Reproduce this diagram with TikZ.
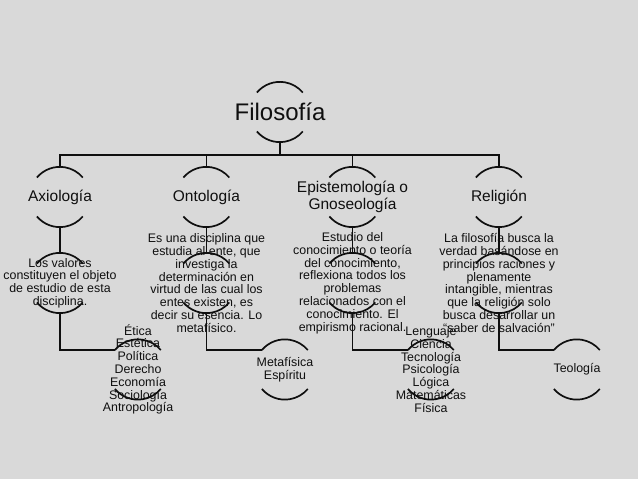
\documentclass[tikz,border=0pt]{standalone}
\usepackage{fontspec}
\setmainfont{Liberation Sans}
\definecolor{bg}{RGB}{217,217,217}
\definecolor{ink}{RGB}{15,15,15}
\tikzset{
  ring/.style={circle, minimum size=60pt, inner sep=0pt, draw=none},
  arcline/.style={draw=ink, line width=1.7pt},
  link/.style={draw=ink, line width=1.6pt},
  top/.style={text=ink, inner sep=0pt, font=\fontsize{24}{26}\selectfont},
  lvl/.style={text=ink, inner sep=0pt, align=center, font=\fontsize{15.5}{17}\selectfont},
  desc/.style={text=ink, inner sep=0pt, align=center, font=\fontsize{12.4}{12.8}\selectfont},
}
\newcommand\ringcaps[1]{%
  \draw[arcline] (#1.140) arc[start angle=140, end angle=40, radius=30pt];
  \draw[arcline] (#1.220) arc[start angle=220, end angle=320, radius=30pt];
}
\begin{document}
\begin{tikzpicture}[x=1pt,y=1pt]
\useasboundingbox (0,0) rectangle (638,479);
\fill[bg] (0,0) rectangle (638,479);

% ring anchors
\node[ring] (fil) at (280,367) {};
\node[ring] (ax) at (60,282) {};
\node[ring] (on) at (206.5,282) {};
\node[ring] (ep) at (352.5,282) {};
\node[ring] (re) at (499,282) {};
\node[ring] (axd) at (60,196) {};
\node[ring] (ond) at (206.5,196) {};
\node[ring] (epd) at (352.5,196) {};
\node[ring] (red) at (499,196) {};
\node[ring] (axc) at (138,109.5) {};
\node[ring] (onc) at (285,109.5) {};
\node[ring] (epc) at (431,109.5) {};
\node[ring] (rec) at (577,109.5) {};

\foreach \n in {fil,ax,on,ep,re,axd,ond,epd,red,axc,onc,epc,rec}{\ringcaps{\n}}

% connectors
\foreach \n in {ax,on,ep,re}{\draw[link] (\n.north) -- ++(0,12) -| (fil.south);}
\foreach \n in {ax,on,ep,re}{\draw[link] (\n.south) -- (\n d.north);}
\foreach \n in {ax,on,ep,re}{\draw[link] (\n d.south) |- (\n c.140);}

% texts
\node[top] (filT) at (fil) {Filosofía};
\node[lvl] (axT) at (ax) {Axiología};
\node[lvl] (onT) at (on) {Ontología};
\node[lvl] (epT) at (ep) {Epistemología o\\Gnoseología};
\node[lvl] (reT) at (re) {Religión};

\node[desc] (axdT) at (axd) {Los valores\\constituyen el objeto\\de estudio de esta\\disciplina.};
\node[desc] (ondT) at (ond) {Es una disciplina que\\estudia al ente, que\\investiga la\\determinación en\\virtud de las cual los\\entes existen, es\\decir su esencia. Lo\\metafísico.};
\node[desc] (epdT) at (epd) {Estudio del\\conocimiento o teoría\\del conocimiento,\\reflexiona todos los\\problemas\\relacionados con el\\conocimiento. El\\empirismo racional.};
\node[desc] (redT) at (red) {La filosofía busca la\\verdad basándose en\\principios raciones y\\plenamente\\intangible, mientras\\que la religión solo\\busca desarrollar un\\“saber de salvación”};

\node[desc] (axcT) at (axc) {Ética\\Estética\\Política\\Derecho\\Economía\\Sociología\\Antropología};
\node[desc] (oncT) at (onc) {Metafísica\\Espíritu};
\node[desc] (epcT) at (epc) {Lenguaje\\Ciencia\\Tecnología\\Psicología\\Lógica\\Matemáticas\\Física};
\node[desc] (recT) at (rec) {Teología};
\end{tikzpicture}
\end{document}
